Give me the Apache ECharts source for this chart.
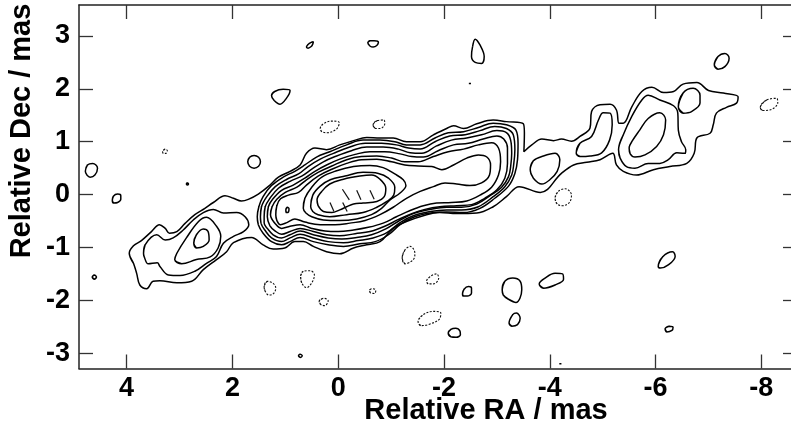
<!DOCTYPE html>
<html><head><meta charset="utf-8">
<style>html,body{margin:0;padding:0;background:#fff;overflow:hidden}#c{width:791px;height:422px}</style>
<script src="https://cdn.jsdelivr.net/npm/echarts@6/dist/echarts.min.js"></script>
</head><body><div id="c"></div>
<script>
const raTicks = [4, 2, 0, -2, -4, -6, -8];
const decTicks = [3, 2, 1, 0, -1, -2, -3];
const outer = [[3.95,-1.11],[3.87,-.97],[3.72,-.87],[3.53,-.70],[3.38,-.57],[3.27,-.64],[3.19,-.73],[3.05,-.70],[2.90,-.55],[2.71,-.38],[2.52,-.26],[2.36,-.15],[2.14,-.02],[1.98,-.07],[1.83,-.12],[1.70,-.09],[1.51,.01],[1.29,.18],[1.13,.33],[.91,.44],[.72,.56],[.60,.78],[.44,.88],[.22,.85],[-.03,.94],[-.29,1.02],[-.54,1.08],[-.79,1.07],[-1.04,1.07],[-1.29,1.00],[-1.55,1.00],[-1.80,1.13],[-2.05,1.25],[-2.18,1.30],[-2.37,1.25],[-2.62,1.34],[-2.93,1.41],[-3.18,1.38],[-3.50,1.34],[-3.52,1.16],[-3.51,.81],[-3.66,.94],[-3.85,1.05],[-4.07,1.02],[-4.22,1.05],[-4.41,1.01],[-4.57,1.10],[-4.76,1.26],[-4.79,1.57],[-4.95,1.70],[-5.14,1.71],[-5.26,1.60],[-5.31,1.35],[-5.39,1.35],[-5.55,1.66],[-5.74,1.95],[-5.93,2.03],[-6.15,1.93],[-6.34,1.95],[-6.52,2.09],[-6.78,2.12],[-7.00,1.97],[-7.28,1.92],[-7.56,1.85],[-7.53,1.73],[-7.34,1.65],[-7.15,1.54],[-7.09,1.32],[-7.03,1.16],[-6.78,1.07],[-6.73,.78],[-6.59,.59],[-6.27,.53],[-5.96,.47],[-5.64,.37],[-5.39,.44],[-5.26,.56],[-5.19,.78],[-4.95,.66],[-4.70,.61],[-4.45,.56],[-4.22,.40],[-3.82,.04],[-3.42,.15],[-3.18,-.04],[-2.93,-.23],[-2.62,-.35],[-2.24,-.36],[-1.92,-.34],[-1.67,-.38],[-1.29,-.51],[-1.04,-.64],[-.79,-.89],[-.54,-.95],[-.29,-1.01],[-.03,-1.12],[.22,-1.08],[.47,-.98],[.66,-.89],[.82,-.89],[1.01,-1.01],[1.23,-1.03],[1.42,-.95],[1.64,-.81],[1.98,-.91],[2.11,-1.08],[2.30,-1.23],[2.55,-1.42],[2.77,-1.64],[3.05,-1.67],[3.37,-1.63],[3.50,-1.64],[3.62,-1.78],[3.75,-1.71],[3.81,-1.49],[3.87,-1.30],[3.95,-1.11]];
const jet2 = [[3.68,-1.11],[3.65,-.95],[3.43,-.76],[3.27,-.86],[3.12,-.82],[2.93,-.67],[2.74,-.48],[2.55,-.34],[2.36,-.28],[2.17,-.35],[1.92,-.34],[1.76,-.42],[1.69,-.57],[1.79,-.70],[1.98,-.79],[2.17,-.92],[2.30,-1.17],[2.49,-1.30],[2.71,-1.45],[2.99,-1.53],[3.21,-1.52],[3.37,-1.36],[3.42,-1.29],[3.59,-1.31],[3.67,-1.17],[3.68,-1.11]];
const jet3 = [[3.09,-1.23],[3.05,-1.11],[2.87,-.82],[2.64,-.51],[2.49,-.43],[2.30,-.60],[2.22,-.79],[2.27,-1.01],[2.42,-1.18],[2.68,-1.23],[2.96,-1.31],[3.09,-1.23]];
const jet4 = [[2.73,-.92],[2.68,-.76],[2.55,-.65],[2.46,-.70],[2.44,-.86],[2.55,-.98],[2.68,-1.01],[2.73,-.92]];
const core2 = [[1.53,-.42],[1.50,-.23],[1.42,-.04],[1.26,.17],[1.04,.33],[.82,.44],[.63,.56],[.41,.71],[.16,.81],[-.16,.94],[-.47,1.03],[-.79,1.03],[-1.07,1.00],[-1.29,.94],[-1.55,.94],[-1.83,1.07],[-2.08,1.17],[-2.37,1.19],[-2.65,1.27],[-2.93,1.35],[-3.18,1.32],[-3.36,1.22],[-3.40,.97],[-3.39,.66],[-3.34,.40],[-3.22,.16],[-2.96,-.07],[-2.68,-.26],[-2.37,-.34],[-2.05,-.33],[-1.74,-.35],[-1.42,-.43],[-1.17,-.57],[-.95,-.76],[-.70,-.89],[-.41,-.93],[-.10,-.98],[.19,-.95],[.47,-.89],[.72,-.81],[.91,-.89],[1.07,-.95],[1.26,-.89],[1.42,-.73],[1.51,-.57],[1.53,-.42]];
const core3 = [[1.47,-.42],[1.45,-.23],[1.35,-.04],[1.19,.15],[.97,.29],[.75,.39],[.57,.53],[.34,.67],[.09,.78],[-.22,.90],[-.51,.97],[-.82,.97],[-1.10,.94],[-1.33,.88],[-1.55,.86],[-1.83,1.00],[-2.11,1.11],[-2.40,1.13],[-2.68,1.21],[-2.96,1.29],[-3.18,1.25],[-3.31,1.13],[-3.34,.85],[-3.32,.59],[-3.28,.37],[-3.15,.15],[-2.93,-.04],[-2.65,-.23],[-2.33,-.29],[-2.05,-.29],[-1.74,-.32],[-1.42,-.40],[-1.17,-.53],[-.92,-.72],[-.66,-.82],[-.38,-.87],[-.10,-.91],[.19,-.89],[.47,-.82],[.72,-.75],[.91,-.82],[1.07,-.89],[1.26,-.82],[1.38,-.68],[1.46,-.54],[1.47,-.42]];
const core4 = [[1.40,-.42],[1.38,-.23],[1.29,-.07],[1.13,.12],[.91,.25],[.69,.35],[.50,.48],[.28,.62],[.03,.73],[-.25,.83],[-.54,.90],[-.85,.90],[-1.14,.86],[-1.36,.79],[-1.58,.78],[-1.86,.92],[-2.14,1.03],[-2.43,1.07],[-2.71,1.13],[-3.00,1.21],[-3.18,1.17],[-3.26,1.03],[-3.28,.78],[-3.26,.53],[-3.22,.34],[-3.09,.14],[-2.87,-.02],[-2.62,-.18],[-2.33,-.24],[-2.05,-.24],[-1.74,-.28],[-1.42,-.36],[-1.16,-.49],[-.90,-.65],[-.63,-.76],[-.35,-.81],[-.07,-.84],[.19,-.82],[.47,-.76],[.72,-.69],[.91,-.76],[1.07,-.82],[1.23,-.76],[1.34,-.64],[1.40,-.54],[1.40,-.42]];
const core5 = [[1.34,-.42],[1.32,-.23],[1.24,-.09],[1.07,.08],[.85,.18],[.63,.31],[.44,.44],[.22,.56],[-.03,.67],[-.32,.76],[-.60,.81],[-.88,.81],[-1.17,.77],[-1.39,.72],[-1.61,.71],[-1.89,.83],[-2.18,.94],[-2.46,.97],[-2.74,1.05],[-3.00,1.11],[-3.13,1.05],[-3.20,.88],[-3.20,.59],[-3.15,.31],[-3.00,.09],[-2.77,-.07],[-2.52,-.19],[-2.24,-.21],[-1.92,-.23],[-1.64,-.28],[-1.39,-.36],[-1.14,-.47],[-.88,-.60],[-.60,-.70],[-.32,-.74],[-.03,-.78],[.22,-.76],[.47,-.70],[.72,-.64],[.91,-.70],[1.07,-.75],[1.19,-.69],[1.29,-.59],[1.34,-.42]];
const core6 = [[1.28,-.38],[1.25,-.23],[1.16,-.09],[1.00,.04],[.78,.14],[.60,.28],[.38,.42],[.12,.54],[-.16,.66],[-.44,.72],[-.73,.73],[-1.01,.69],[-1.26,.62],[-1.51,.62],[-1.80,.72],[-2.08,.81],[-2.37,.86],[-2.65,.94],[-2.90,.98],[-3.03,.88],[-3.07,.62],[-3.03,.37],[-2.90,.14],[-2.68,-.01],[-2.43,-.12],[-2.14,-.15],[-1.86,-.16],[-1.61,-.21],[-1.36,-.30],[-1.10,-.42],[-.85,-.54],[-.57,-.62],[-.29,-.67],[.00,-.70],[.25,-.69],[.50,-.64],[.72,-.57],[.91,-.60],[1.07,-.64],[1.19,-.55],[1.28,-.38]];
const core7 = [[1.18,-.38],[1.16,-.21],[1.09,-.08],[.94,-.01],[.75,.04],[.60,.18],[.38,.35],[.12,.48],[-.16,.59],[-.44,.66],[-.73,.67],[-1.01,.62],[-1.26,.56],[-1.51,.54],[-1.77,.53],[-1.96,.47],[-2.18,.56],[-2.43,.69],[-2.65,.75],[-2.81,.71],[-2.88,.56],[-2.86,.37],[-2.71,.22],[-2.49,.17],[-2.24,.20],[-2.02,.22],[-1.80,.15],[-1.55,.06],[-1.29,-.07],[-1.04,-.24],[-.79,-.38],[-.51,-.49],[-.22,-.54],[.06,-.57],[.34,-.57],[.63,-.52],[.82,-.46],[.97,-.53],[1.09,-.57],[1.16,-.49],[1.18,-.38]];
const core8 = [[.66,-.26],[.63,-.07],[.50,.14],[.31,.33],[.03,.45],[-.29,.53],[-.60,.55],[-.85,.51],[-1.07,.39],[-1.23,.28],[-1.28,.17],[-1.17,.03],[-.98,-.10],[-.82,-.26],[-.63,-.38],[-.35,-.46],[-.03,-.49],[.28,-.48],[.50,-.42],[.61,-.35],[.66,-.26]];
const core9 = [[.52,-.23],[.48,-.01],[.34,.16],[.15,.28],[-.13,.35],[-.47,.42],[-.76,.40],[-.95,.31],[-1.07,.14],[-1.05,-.01],[-.92,-.13],[-.73,-.24],[-.47,-.34],[-.16,-.38],[.16,-.42],[.38,-.38],[.48,-.32],[.52,-.23]];
const core10 = [[.40,-.10],[.31,.06],[.16,.20],[-.10,.29],[-.41,.35],[-.63,.37],[-.79,.29],[-.90,.12],[-.87,-.04],[-.73,-.13],[-.47,-.16],[-.29,-.18],[-.16,-.23],[-.03,-.29],[.12,-.34],[.28,-.32],[.38,-.21],[.40,-.10]];
const coreDot = [[.99,-.29],[.96,-.24],[.93,-.27],[.94,-.33],[.98,-.34],[.99,-.29]];
const lobeA = [[-3.63,.47],[-3.69,.64],[-3.88,.73],[-4.10,.78],[-4.19,.66],[-4.14,.44],[-4.00,.28],[-3.85,.20],[-3.69,.31],[-3.63,.47]];
const lobeB = [[-4.50,.78],[-4.57,.97],[-4.79,1.10],[-4.92,1.41],[-5.01,1.55],[-5.14,1.54],[-5.18,1.32],[-5.13,1.03],[-4.98,.79],[-4.76,.73],[-4.57,.72],[-4.50,.78]];
const lobeC = [[-5.30,.85],[-5.39,1.13],[-5.55,1.48],[-5.74,1.79],[-5.86,1.88],[-6.08,1.79],[-6.34,1.68],[-6.42,1.54],[-6.43,1.22],[-6.49,1.00],[-6.57,.85],[-6.56,.78],[-6.40,.79],[-6.24,.66],[-6.08,.59],[-5.86,.59],[-5.61,.50],[-5.45,.53],[-5.33,.69],[-5.30,.85]];
const lobeD = [[-5.50,.88],[-5.55,1.00],[-5.70,1.22],[-5.86,1.44],[-6.08,1.55],[-6.19,1.41],[-6.15,1.13],[-6.02,.91],[-5.80,.75],[-5.61,.71],[-5.52,.77],[-5.50,.88]];
const lobeE = [[-6.43,1.66],[-6.52,1.92],[-6.71,2.01],[-6.84,1.88],[-6.84,1.73],[-6.68,1.57],[-6.52,1.54],[-6.43,1.66]];
const isoA = [[.60,2.79],[.57,2.84],[.51,2.88],[.47,2.89],[.48,2.85],[.51,2.80],[.57,2.77],[.60,2.79]];
const isoB = [[-.56,2.87],[-.60,2.91],[-.68,2.91],[-.76,2.88],[-.73,2.82],[-.66,2.79],[-.60,2.81],[-.56,2.87]];
const isoC = [[1.26,1.87],[1.20,1.95],[1.04,1.99],[.91,1.97],[.98,1.82],[1.10,1.71],[1.21,1.78],[1.26,1.87]];
const isoF = [[1.71,.62],[1.675,.705],[1.59,.74],[1.505,.705],[1.47,.62],[1.505,.535],[1.59,.50],[1.675,.535],[1.71,.62]];
const isoG = [[4.78,.44],[4.74,.56],[4.64,.59],[4.55,.50],[4.60,.37],[4.69,.33],[4.75,.37],[4.78,.44]];
const isoH = [[4.27,-.11],[4.25,-.03],[4.17,.01],[4.11,-.02],[4.11,-.09],[4.17,-.15],[4.24,-.16],[4.27,-.11]];
const isoJ = [[2.87,.20],[2.85,.22],[2.83,.20],[2.85,.18],[2.87,.20]];
const isoK = [[4.65,-1.56],[4.61,-1.52],[4.57,-1.56],[4.61,-1.60],[4.65,-1.56]];
const isoP = [[.75,-3.05],[.72,-3.02],[.68,-3.05],[.72,-3.08],[.75,-3.05]];
const isoS = [[-2.35,-1.88],[-2.38,-1.79],[-2.46,-1.74],[-2.52,-1.77],[-2.52,-1.86],[-2.44,-1.92],[-2.37,-1.92],[-2.35,-1.88]];
const isoT = [[-3.10,-1.80],[-3.15,-1.64],[-3.30,-1.58],[-3.44,-1.64],[-3.47,-1.80],[-3.36,-2.04],[-3.22,-1.98],[-3.12,-1.90],[-3.10,-1.80]];
const isoU = [[-3.80,-1.69],[-3.91,-1.58],[-4.10,-1.49],[-4.24,-1.50],[-4.26,-1.60],[-4.10,-1.71],[-3.88,-1.77],[-3.80,-1.69]];
const isoW = [[-2.08,-2.62],[-2.13,-2.55],[-2.22,-2.53],[-2.30,-2.58],[-2.31,-2.65],[-2.23,-2.70],[-2.13,-2.69],[-2.08,-2.62]];
const isoX = [[-3.23,-2.43],[-3.30,-2.27],[-3.37,-2.24],[-3.44,-2.34],[-3.39,-2.46],[-3.28,-2.49],[-3.23,-2.43]];
const isoY = [[-6.05,-1.36],[-6.14,-1.17],[-6.32,-1.08],[-6.37,-1.17],[-6.24,-1.33],[-6.09,-1.39],[-6.05,-1.36]];
const isoZ = [[-6.18,-2.54],[-6.26,-2.49],[-6.33,-2.51],[-6.31,-2.57],[-6.21,-2.60],[-6.18,-2.54]];
const isoAA = [[-4.18,-3.20],[-4.22,-3.20]];
const isoBB = [[-2.59,2.94],[-2.68,2.83],[-2.76,2.61],[-2.71,2.48],[-2.59,2.50],[-2.52,2.61],[-2.54,2.80],[-2.59,2.94]];
const isoCC = [[-2.47,2.10],[-2.51,2.10]];
const isoDD = [[-7.11,2.45],[-7.18,2.61],[-7.31,2.67],[-7.39,2.58],[-7.31,2.42],[-7.18,2.37],[-7.11,2.45]];
const negD = [[.34,1.25],[.28,1.34],[.12,1.39],[-.02,1.36],[.03,1.24],[.21,1.17],[.31,1.19],[.34,1.25]];
const negE = [[-.66,1.32],[-.74,1.40],[-.87,1.41],[-.88,1.34],[-.79,1.25],[-.70,1.25],[-.66,1.32]];
const negI = [[3.32,.81],[3.27,.86],[3.23,.83],[3.26,.78],[3.31,.78],[3.32,.81]];
const negL = [[.71,-1.55],[.66,-1.45],[.53,-1.44],[.45,-1.52],[.50,-1.67],[.60,-1.76],[.69,-1.67],[.71,-1.55]];
const negM = [[1.40,-1.74],[1.34,-1.64],[1.23,-1.68],[1.18,-1.77],[1.23,-1.88],[1.31,-1.90],[1.38,-1.83],[1.40,-1.74]];
const negN = [[-.59,-1.81],[-.65,-1.78],[-.71,-1.81],[-.69,-1.87],[-.61,-1.86],[-.59,-1.81]];
const negO = [[.36,-2.02],[.28,-1.96],[.19,-2.01],[.25,-2.10],[.33,-2.08],[.36,-2.02]];
const negQ = [[-1.21,-1.20],[-1.26,-1.05],[-1.36,-.98],[-1.45,-1.11],[-1.42,-1.23],[-1.26,-1.31],[-1.21,-1.20]];
const negR = [[-1.67,-1.64],[-1.74,-1.55],[-1.86,-1.50],[-1.90,-1.58],[-1.80,-1.69],[-1.70,-1.69],[-1.67,-1.64]];
const negV = [[-1.51,-2.40],[-1.61,-2.27],[-1.80,-2.21],[-1.94,-2.24],[-1.91,-2.36],[-1.70,-2.46],[-1.56,-2.48],[-1.51,-2.40]];
const negEE = [[-7.98,1.65],[-8.10,1.79],[-8.29,1.82],[-8.31,1.74],[-8.16,1.60],[-8.02,1.59],[-7.98,1.65]];
const negFF = [[-4.10,-.07],[-4.16,.06],[-4.29,.11],[-4.41,-.01],[-4.37,-.15],[-4.24,-.21],[-4.14,-.18],[-4.10,-.07]];
const hachures = [[[.155,-.15],[.08,-.32]],[[-.08,.10],[-.21,-.10]],[[-.35,.08],[-.43,-.10]],[[-.60,.08],[-.68,-.09]],[[-.085,-.15],[-.17,-.32]]];

const solidContours = [outer,jet2,jet3,jet4,core2,core3,core4,core5,core6,core7,core8,core9,core10,coreDot,lobeA,lobeB,lobeC,lobeD,lobeE,isoA,isoB,isoC,isoF,isoG,isoH,isoJ,isoK,isoP,isoS,isoT,isoU,isoW,isoX,isoY,isoZ,isoAA,isoBB,isoCC,isoDD];
const dottedContours = [negD,negE,negI,negL,negM,negN,negO,negQ,negR,negV,negEE,negFF];

// A closed ring keeps its curve round at the join by overlapping one vertex at each end.
const ring = d => d.length < 4 ? d : [d[d.length-2], ...d, d[1]];
const series = [];
solidContours.forEach(d => series.push({type:'line',data:ring(d),smooth:0.38,showSymbol:false,silent:true,lineStyle:{color:'#000',width:1.5}}));
dottedContours.forEach(d => series.push({type:'line',data:ring(d),smooth:0.38,showSymbol:false,silent:true,lineStyle:{color:'#111',width:1.1,type:[2,1.5]}}));
hachures.forEach(d => series.push({type:'line',data:d,showSymbol:false,silent:true,lineStyle:{color:'#111',width:1.2}}));

const axisLine = {show:true,onZero:false,lineStyle:{color:'#222',width:1.5}};
const tick = (vals,len) => ({show:true,inside:true,length:len,customValues:vals,lineStyle:{color:'#333',width:1.3}});
const labelFont = {fontFamily:'"Liberation Sans",Arial,sans-serif',fontWeight:'bold',fontSize:27,color:'#000'};
const chart = echarts.init(document.getElementById('c'),null,{renderer:'canvas'});
chart.setOption({
  animation:false,
  backgroundColor:'#fff',
  grid:{left:79,top:5,right:0,height:363.5,containLabel:false},
  xAxis:[
    {type:'value',position:'bottom',inverse:true,min:-8.56,max:4.90,axisLine,axisTick:tick(raTicks,14),splitLine:{show:false},
     axisLabel:Object.assign({show:true,margin:7,customValues:raTicks,showMinLabel:true,showMaxLabel:true},labelFont)},
    {type:'value',position:'top',inverse:true,min:-8.56,max:4.90,axisLine,axisTick:tick(raTicks,14),axisLabel:{show:false},splitLine:{show:false}}
  ],
  yAxis:[
    {type:'value',position:'left',min:-3.29,max:3.586,axisLine,axisTick:tick(decTicks,14),splitLine:{show:false},
     axisLabel:Object.assign({show:true,margin:9,customValues:decTicks},labelFont)},
    {type:'value',position:'right',min:-3.29,max:3.586,axisLine:{show:false,onZero:false},axisTick:tick(decTicks,8),axisLabel:{show:false},splitLine:{show:false}}
  ],
  graphic:[
    {type:'text',x:486,y:411,style:{text:'Relative RA / mas',font:'bold 29px "Liberation Sans",Arial,sans-serif',fill:'#000',textAlign:'center',textVerticalAlign:'middle'}},
    {type:'text',x:22,y:131,rotation:Math.PI/2,style:{text:'Relative Dec / mas',font:'bold 29px "Liberation Sans",Arial,sans-serif',fill:'#000',textAlign:'center',textVerticalAlign:'middle'}}
  ],
  series
});
</script></body></html>
